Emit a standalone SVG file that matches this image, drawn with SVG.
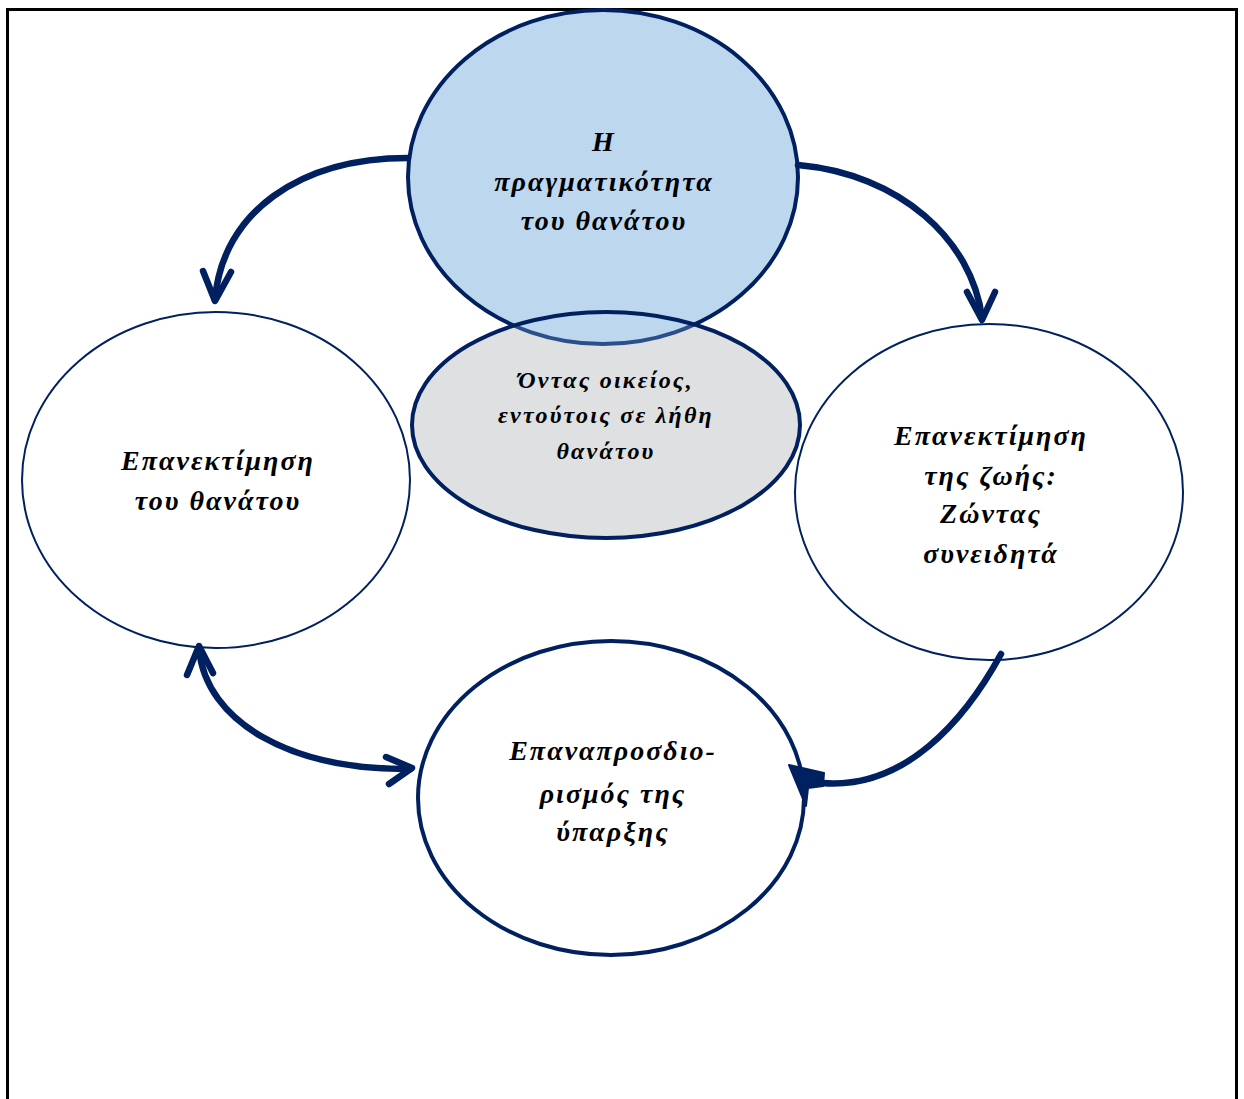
<svg xmlns="http://www.w3.org/2000/svg" width="1244" height="1099" viewBox="0 0 1244 1099">
<style>
.lbl{font-family:"Liberation Serif","DejaVu Serif",serif;font-weight:bold;font-style:italic;fill:#000;text-anchor:middle}
.big{font-size:28px;letter-spacing:2px}
.sm{font-size:24px;letter-spacing:2.2px}
.thin{fill:#fff;stroke:#002060;stroke-width:2}
.conn{fill:none;stroke:#002060;stroke-width:6.5;stroke-linecap:round;stroke-linejoin:round}
</style>
<defs>
<clipPath id="greyClip"><ellipse cx="606" cy="425" rx="194" ry="113"/></clipPath>
</defs>
<rect x="0" y="0" width="1244" height="1099" fill="#fff"/>
<path d="M7.5 1099 V9.5 H1236.5 V1099" fill="none" stroke="#000" stroke-width="3"/>

<g id="node-reality">
<ellipse cx="603" cy="177" rx="195" ry="167" fill="#bdd7ee" stroke="#002060" stroke-width="4"/>
</g>
<g id="node-oblivion">
<ellipse cx="606" cy="425" rx="194" ry="113" fill="#dfe0e2"/>
<g clip-path="url(#greyClip)">
<ellipse cx="603" cy="177" rx="195" ry="167" fill="#bdd7ee" stroke="#2b4f8a" stroke-width="4"/>
</g>
<ellipse cx="606" cy="425" rx="194" ry="113" fill="none" stroke="#002060" stroke-width="4"/>
<text class="lbl sm" x="606" y="388">Όντας οικείος,</text>
<text class="lbl sm" x="606" y="423">εντούτοις σε λήθη</text>
<text class="lbl sm" x="606" y="459">θανάτου</text>
</g>
<g id="node-reality-text">
<text class="lbl big" x="604" y="151">Η</text>
<text class="lbl big" x="604" y="191">πραγματικότητα</text>
<text class="lbl big" x="604" y="230">του θανάτου</text>
</g>

<g id="node-death">
<ellipse class="thin" cx="216" cy="480" rx="194" ry="168"/>
<text class="lbl big" x="218" y="470">Επανεκτίμηση</text>
<text class="lbl big" x="218" y="510">του θανάτου</text>
</g>

<g id="node-life">
<ellipse class="thin" cx="989" cy="492" rx="194" ry="168"/>
<text class="lbl big" x="991" y="445">Επανεκτίμηση</text>
<text class="lbl big" x="991" y="485">της ζωής:</text>
<text class="lbl big" x="991" y="523">Ζώντας</text>
<text class="lbl big" x="991" y="563">συνειδητά</text>
</g>

<g id="node-existence">
<ellipse cx="611" cy="798" rx="193" ry="157" fill="#fff" stroke="#002060" stroke-width="4"/>
<text class="lbl big" x="613" y="760">Επαναπροσδιο-</text>
<text class="lbl big" x="613" y="803">ρισμός της</text>
<text class="lbl big" x="613" y="841">ύπαρξης</text>
</g>

<g id="connectors">
<path class="conn" d="M408 158 C300 158 222 212 215 300"/>
<polyline class="conn" points="203,271 215,301 231,272"/>
<path class="conn" d="M798 165 C900 174 972 240 982 318"/>
<polyline class="conn" points="967,292 982,320 995,292"/>
<path class="conn" d="M199 649 C206 722 290 770 410 769"/>
<polyline class="conn" points="187,675 199,646 213,673"/>
<polyline class="conn" points="386,757 412,768 389,784"/>
<path class="conn" d="M1001 654 C965 720 905 790 822 783"/>
<polygon points="789,765 824,773 823,786 808,788 806,806" fill="#002060" stroke="#002060" stroke-width="2" stroke-linejoin="round"/>
</g>
</svg>
